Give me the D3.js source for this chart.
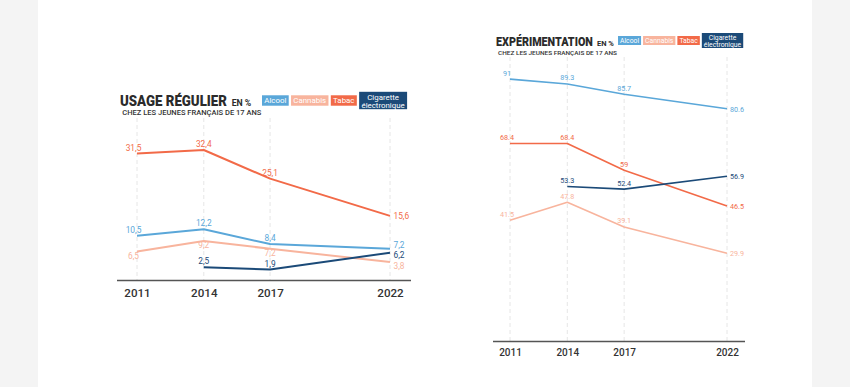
<!DOCTYPE html>
<html>
<head>
<meta charset="utf-8">
<script src="https://cdn.jsdelivr.net/npm/d3@7"></script>
<style>
  body { margin: 0; background: #f4f4f4; }
  svg { display: block; }
  text { font-family: Roboto, "Noto Sans", sans-serif; }
</style>
</head>
<body>
<svg id="canvas" width="850" height="387"></svg>
<script>
// ---- data ----
let years = [2011, 2014, 2017, 2022]
let seriesNames = ['Alcool', 'Cannabis', 'Tabac', 'Cigarette électronique']

// usage régulier (%)
let regAlcool = [10.5, 12.2, 8.4, 7.2]
let regCannabis = [6.5, 9.2, 7.2, 3.8]
let regTabac = [31.5, 32.4, 25.1, 15.6]
let regCigarette = [null, 2.5, 1.9, 6.2]

// expérimentation (%)
let expAlcool = [91, 89.3, 85.7, 80.6]
let expCannabis = [41.5, 47.8, 39.1, 29.9]
let expTabac = [68.4, 68.4, 59, 46.5]
let expCigarette = [null, 53.3, 52.4, 56.9]

let colors = {
    'Alcool': '#5aa7d9',
    'Cannabis': '#f8b49d',
    'Tabac': '#f26a48',
    'Cigarette électronique': '#1b4a78'
}

let canvas = d3.select('#canvas')

// white page panel
canvas.append('rect')
      .attr('x', 38).attr('y', 0)
      .attr('width', 774).attr('height', 387)
      .attr('fill', '#ffffff')

// relative spacing of the year columns in the original layout
let yearSpacing = [0, 0.264, 0.526, 1]

let drawChart = (cfg) => {
    let g = canvas.append('g')
    let k = cfg.k

    let xScale = d3.scaleLinear()
                   .domain(years)
                   .range(yearSpacing.map(f => cfg.x0 + f * (cfg.x1 - cfg.x0)))

    let yScale = d3.scaleLinear()
                   .domain([0, cfg.yMax])
                   .range([cfg.yZero, cfg.yTop])

    // dashed year guides
    g.selectAll('line.grid')
     .data(years)
     .enter()
     .append('line')
     .attr('class', 'grid')
     .attr('x1', d => xScale(d)).attr('x2', d => xScale(d))
     .attr('y1', cfg.gridTop).attr('y2', cfg.base)
     .attr('stroke', '#e6e6e6')
     .attr('stroke-width', 1)
     .attr('stroke-dasharray', '4,3')

    // axis
    let axis = d3.axisBottom(xScale)
                 .tickValues(years)
                 .tickFormat(d3.format('d'))
                 .tickSize(0)
                 .tickPadding(7 * k)
    let axisG = g.append('g')
                 .attr('transform', 'translate(0,' + cfg.base + ')')
                 .call(axis)
    axisG.select('.domain').remove()
    axisG.selectAll('text')
         .attr('font-size', 10 * k)
         .attr('font-weight', 500)
         .attr('fill', '#333')
    g.append('line')
     .attr('x1', cfg.axisL).attr('x2', cfg.axisR)
     .attr('y1', cfg.base).attr('y2', cfg.base)
     .attr('stroke', '#555')
     .attr('stroke-width', 1.3)

    let line = d3.line()
                 .defined(d => d.v !== null)
                 .x(d => xScale(d.year))
                 .y(d => yScale(d.v))

    let fmt = (v) => cfg.comma ? String(v).replace('.', ',') : String(v)

    cfg.series.forEach((values, si) => {
        let name = seriesNames[si]
        let pts = values.map((v, i) => ({ year: years[i], v: v, i: i }))

        g.append('path')
         .datum(pts)
         .attr('d', line)
         .attr('fill', 'none')
         .attr('stroke', colors[name])
         .attr('stroke-width', cfg.lineWidth)
         .attr('stroke-linejoin', 'round')

        let below = cfg.below.includes(name)
        let lastShift = cfg.lastShift[name] || 0
        g.selectAll(null)
         .data(pts.filter(d => d.v !== null))
         .enter()
         .append('text')
         .text(d => fmt(d.v))
         .attr('x', d => {
             if (d.i === years.length - 1) return xScale(d.year) + 3 * k
             if (d.i === 0) return xScale(d.year) - 3 * k
             return xScale(d.year)
         })
         .attr('y', d => {
             if (d.i === years.length - 1) return yScale(d.v) + (3 + lastShift) * k
             return below ? yScale(d.v) + 6.5 * k : yScale(d.v) - cfg.above * k
         })
         .attr('text-anchor', d => d.i === years.length - 1 ? 'start' : 'middle')
         .attr('font-size', 7.2 * k)
         .attr('fill', colors[name])
    })

    // title, squeezed horizontally to the original width
    let title = g.append('text')
                 .attr('font-size', 13 * k)
                 .attr('font-weight', 900)
                 .attr('fill', '#2b2b2b')
                 .text(cfg.title)
    let natural = title.node().getComputedTextLength()
    title.attr('transform', 'translate(' + cfg.titleX + ',' + cfg.titleY + ') scale(' + (cfg.titleW / natural) + ',1)')

    g.append('text')
     .attr('x', cfg.titleX + cfg.titleW + 4 * k)
     .attr('y', cfg.titleY)
     .attr('font-size', 7.5 * k)
     .attr('font-weight', 700)
     .attr('fill', '#2b2b2b')
     .text('EN %')

    g.append('text')
     .attr('x', cfg.titleX + 2 * k)
     .attr('y', cfg.titleY + 8.5 * k)
     .attr('font-size', 6 * k)
     .attr('font-weight', 500)
     .attr('fill', '#333')
     .attr('textLength', cfg.subW)
     .attr('lengthAdjust', 'spacingAndGlyphs')
     .text('CHEZ LES JEUNES FRANÇAIS DE 17 ANS')

    // legend boxes
    let lx = cfg.legendX
    seriesNames.forEach((name) => {
        let lines = name === 'Cigarette électronique' ? ['Cigarette', 'électronique'] : [name]
        let fs = 6.8 * k
        let tmp = g.append('g')
        let texts = lines.map((t) => tmp.append('text')
                                       .text(t)
                                       .attr('font-size', fs)
                                       .attr('fill', '#fff')
                                       .attr('text-anchor', 'middle'))
        let w = d3.max(texts, t => t.node().getComputedTextLength()) + 4 * k
        let h = lines.length === 1 ? 9 * k : 15 * k
        let top = cfg.legendMid - h / 2
        tmp.insert('rect', 'text')
           .attr('x', lx).attr('y', top)
           .attr('width', w).attr('height', h)
           .attr('fill', colors[name])
        texts.forEach((t, li) => {
            t.attr('x', lx + w / 2)
             .attr('y', top + 7 * k + li * 6.8 * k)
        })
        lx += w + 2 * k
    })
}

drawChart({
    k: 1.16,
    title: 'USAGE RÉGULIER', titleX: 120, titleY: 105.5, titleW: 107, subW: 139,
    legendX: 262, legendMid: 100.5,
    x0: 137, x1: 390,
    yMax: 32.4, yZero: 277, yTop: 150,
    gridTop: 118, base: 280.5, axisL: 117, axisR: 411,
    lineWidth: 2, comma: true, below: ['Cannabis'], above: 2.6,
    lastShift: { 'Alcool': -4, 'Cigarette électronique': 1.5, 'Cannabis': 3 },
    series: [regAlcool, regCannabis, regTabac, regCigarette]
})

drawChart({
    k: 1,
    title: 'EXPÉRIMENTATION', titleX: 496, titleY: 46, titleW: 97, subW: 119,
    legendX: 618, legendMid: 40.5,
    x0: 510, x1: 727,
    yMax: 91, yZero: 338.4, yTop: 79.1,
    gridTop: 57, base: 341.5, axisL: 493, axisR: 745,
    lineWidth: 1.6, comma: false, below: [], above: 3.5,
    lastShift: {},
    series: [expAlcool, expCannabis, expTabac, expCigarette]
})
</script>
</body>
</html>
